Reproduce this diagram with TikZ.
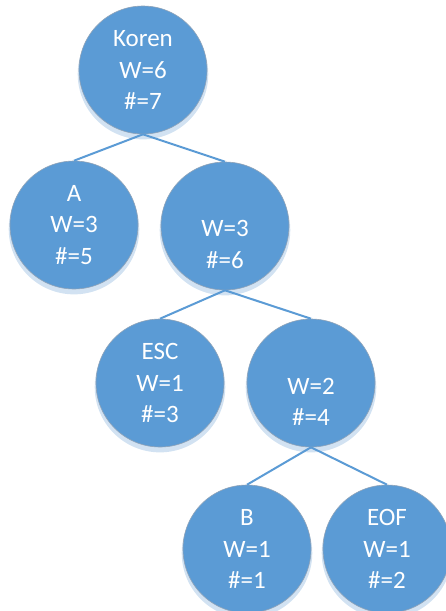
\documentclass[tikz,border=0pt]{standalone}
\usepackage{fontspec}
\setmainfont{Carlito}
\usetikzlibrary{shadows}
\definecolor{nodeblue}{HTML}{5B9BD5}
\definecolor{edgeblue}{HTML}{5B9BD5}
\definecolor{shadowblue}{HTML}{D2E2F2}
\definecolor{rimgray}{HTML}{8FA3B8}
\tikzset{
  treenode/.style={circle, fill=nodeblue, draw=rimgray, line width=0.6pt,
    minimum size=128pt, inner sep=0pt, text=white, align=center,
    font=\fontsize{25}{31.5}\selectfont,
    drop shadow={shadow xshift=0pt, shadow yshift=-4pt, shadow scale=1.02,
      fill=shadowblue, opacity=1}},
  treeedge/.style={draw=edgeblue, line width=2pt}
}
\begin{document}
\begin{tikzpicture}[x=1pt,y=-1pt]
\useasboundingbox (0,0) rectangle (446,611);
\node[treenode] (koren) at (143,70) {Koren\\W=6\\\#=7};
\node[treenode] (a) at (74,225) {A\\W=3\\\#=5};
\node[treenode] (w3) at (225,226) {\strut\\W=3\\\#=6};
\node[treenode] (esc) at (160,383) {ESC\\W=1\\\#=3};
\node[treenode] (w2) at (311,383) {\strut\\W=2\\\#=4};
\node[treenode] (b) at (247,549) {B\\W=1\\\#=1};
\node[treenode] (eof) at (387,549) {EOF\\W=1\\\#=2};
\draw[treeedge] (koren.south) -- (a.north);
\draw[treeedge] (koren.south) -- (w3.north);
\draw[treeedge] (w3.south) -- (esc.north);
\draw[treeedge] (w3.south) -- (w2.north);
\draw[treeedge] (w2.south) -- (b.north);
\draw[treeedge] (w2.south) -- (eof.north);
\end{tikzpicture}
\end{document}
